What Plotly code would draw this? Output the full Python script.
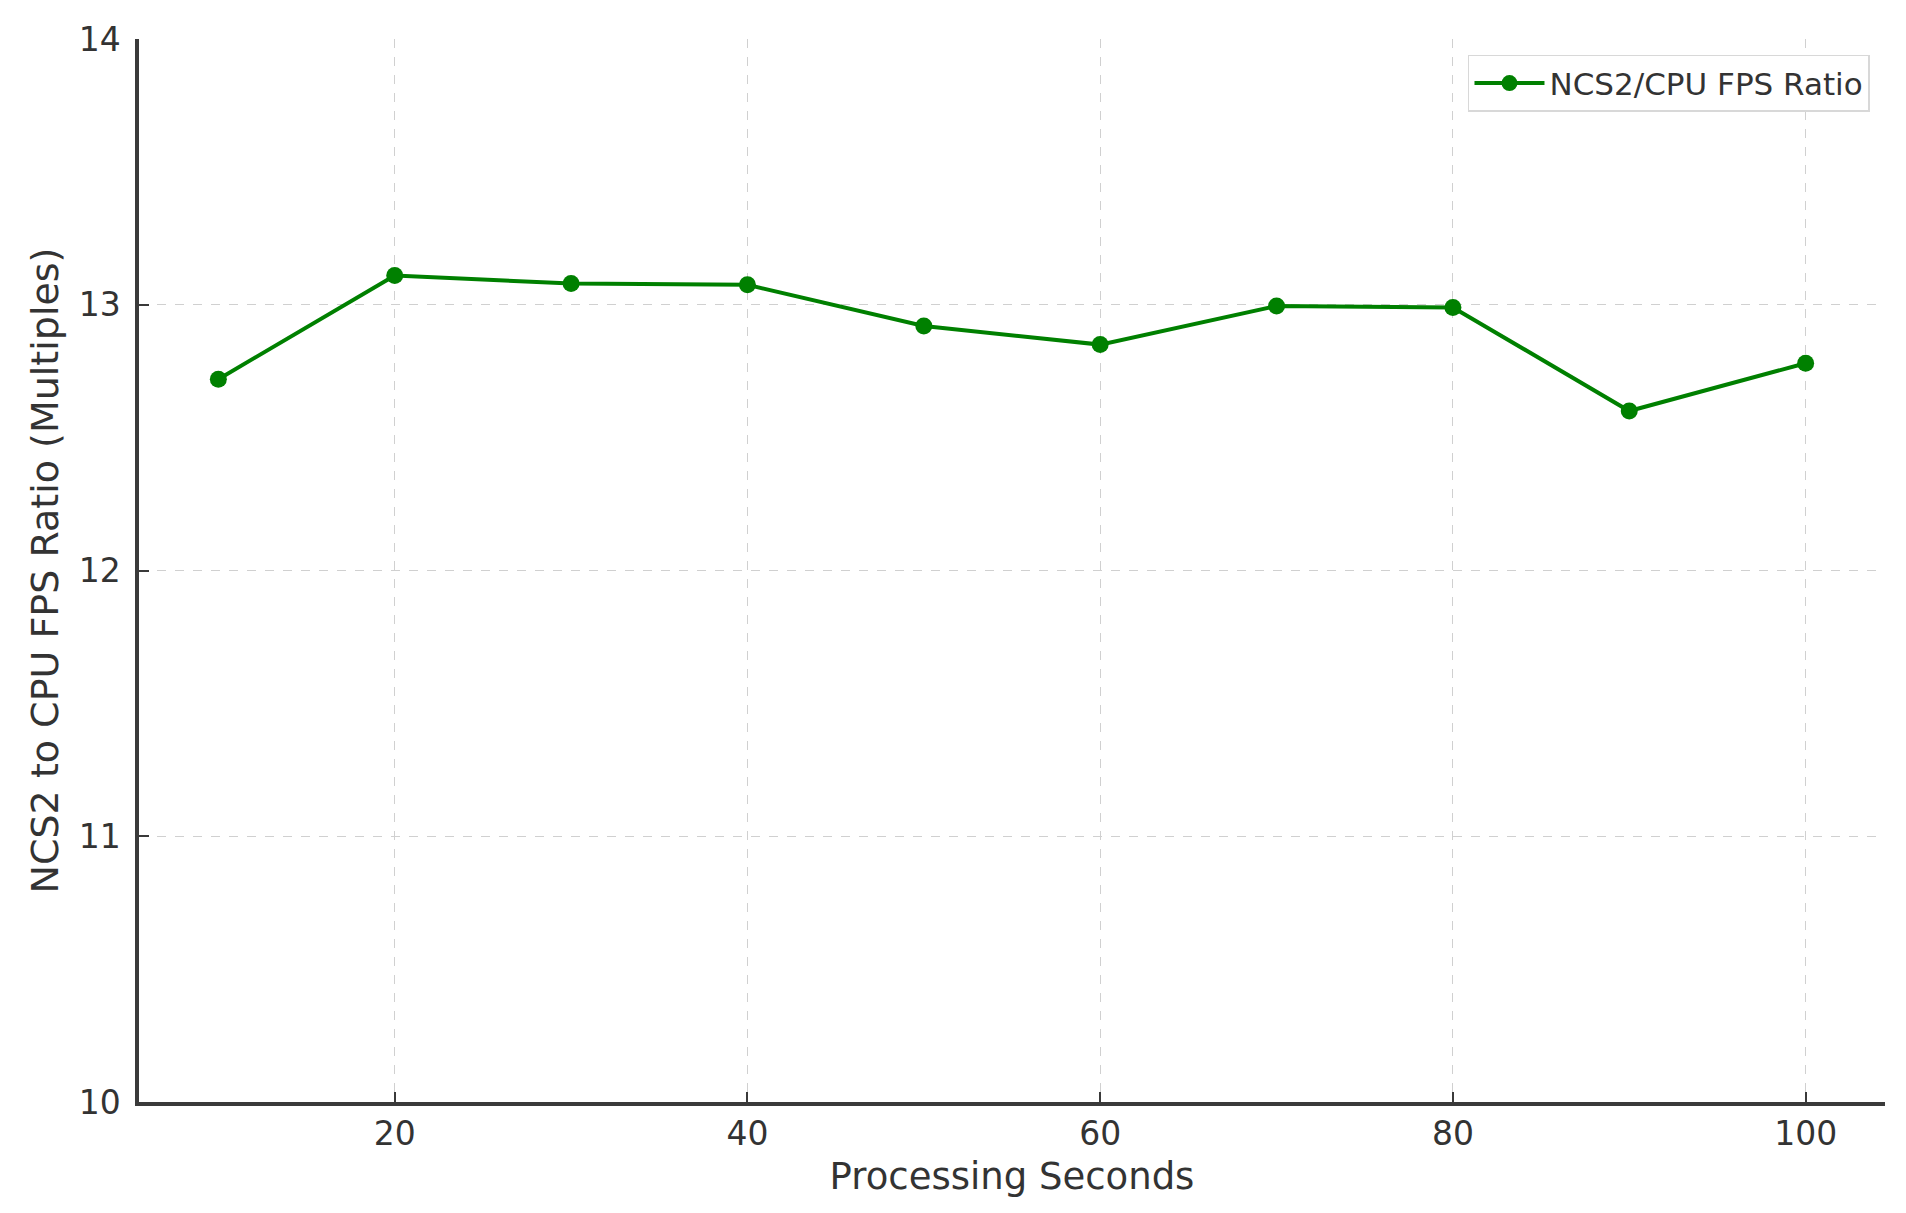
import plotly.graph_objects as go

seconds = [10, 20, 30, 40, 50, 60, 70, 80, 90, 100]
ratio = [12.72, 13.11, 13.08, 13.075, 12.92, 12.85, 12.995, 12.99, 12.60, 12.78]
series_name = "NCS2/CPU FPS Ratio"
x_title = "Processing Seconds"
y_title = "NCS2 to CPU FPS Ratio (Multiples)"

FONT = "DejaVu Sans"
GREEN = "#008000"
TXT = "#333333"

fig = go.Figure()
fig.add_trace(go.Scatter(
    x=seconds, y=ratio, mode="lines+markers", name=series_name,
    line=dict(color=GREEN, width=4),
    marker=dict(color=GREEN, size=17, symbol="circle"),
))

axis_common = dict(
    showline=True, linecolor="#3a3a3a", linewidth=3.5, mirror=False,
    ticks="inside", ticklen=10, tickwidth=1.5, tickcolor="#3a3a3a",
    showgrid=True, gridcolor="#d0d0d0", gridwidth=1, griddash="dash",
    zeroline=False,
    tickfont=dict(family=FONT, size=33, color=TXT),
)

# page body has an 8px margin, so the figure is sized to fit inside it
fig.update_layout(
    width=1890, height=1197,
    paper_bgcolor="white", plot_bgcolor="white",
    margin=dict(l=131, r=13, t=31, b=103),
    font=dict(family=FONT, color=TXT),
    showlegend=True,
    legend=dict(
        x=0.9914, y=0.985, xanchor="right", yanchor="top",
        bgcolor="white", bordercolor="#d8d8d8", borderwidth=1.5,
        font=dict(family=FONT, size=31, color=TXT),
        itemwidth=70,
    ),
    xaxis=dict(
        axis_common,
        range=[5.5, 104.5], tickmode="array", tickvals=[20, 40, 60, 80, 100],
        title=dict(text=x_title, font=dict(family=FONT, size=37, color=TXT), standoff=12),
    ),
    yaxis=dict(
        axis_common,
        range=[10, 14], tickmode="array", tickvals=[10, 11, 12, 13, 14],
        ticklabelstandoff=8,
        title=dict(text=y_title, font=dict(family=FONT, size=38, color=TXT), standoff=9),
    ),
)

fig.write_html("out.html")
